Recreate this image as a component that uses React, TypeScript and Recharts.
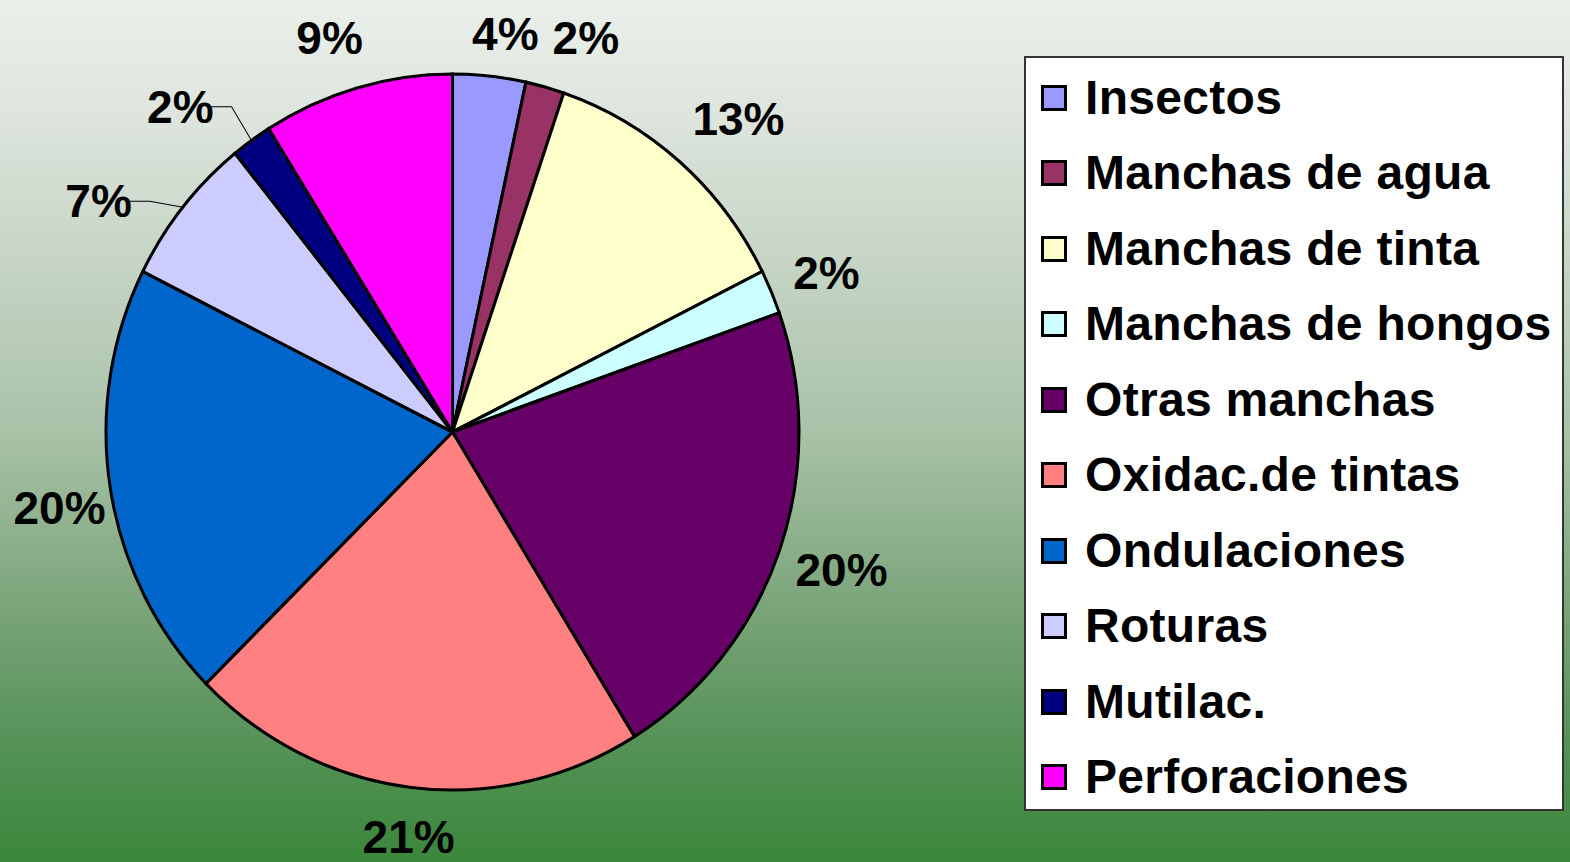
import React from "react";
import { Cell, Legend, Pie, PieChart } from "recharts";

const categories = [
  "Insectos",
  "Manchas de agua",
  "Manchas de tinta",
  "Manchas de hongos",
  "Otras manchas",
  "Oxidac.de tintas",
  "Ondulaciones",
  "Roturas",
  "Mutilac.",
  "Perforaciones",
];
// slice sizes
const shares = [3.4, 1.8, 12.4, 2.0, 21.6, 21.4, 19.8, 6.8, 1.9, 8.9];
// labels as printed on the chart
const shareLabels = ["4%", "2%", "13%", "2%", "20%", "21%", "20%", "7%", "2%", "9%"];

const colors = [
  "#9999FF",
  "#993366",
  "#FFFFCC",
  "#CCFFFF",
  "#660066",
  "#FF8080",
  "#0066CC",
  "#CCCCFF",
  "#000080",
  "#FF00FF",
];

const data = categories.map((name, i) => ({ name, value: shares[i] }));

const FONT = '"Liberation Sans", Arial, Helvetica, sans-serif';
const K = 358 / 346.5; // pie is drawn slightly taller than wide
const CY = 432;

// hand-placed label offsets (screen px), like the dragged labels in the source
const labelNudge = [
  [10, 15],
  [26, 6],
  [22, 0],
  [4, 4],
  [10, 0],
  [4, -7],
  [4, 11],
  [-41, 30],
  [-39, 13],
  [-12, 5],
];
const withLeader = [false, false, false, false, false, false, false, true, true, false];

const LABEL_SIZE = 46;

function renderLabel(p: any) {
  const rad = Math.PI / 180;
  const a = -p.midAngle * rad;
  const r = p.outerRadius * 1.16;
  const [nx, ny] = labelNudge[p.index];
  const x = p.cx + r * Math.cos(a) + nx;
  const y = p.cy + r * Math.sin(a) + ny / K;
  const text = shareLabels[p.index];
  const digits = text.length - 1;
  const w = (digits * 0.556 + 0.889) * LABEL_SIZE;
  let leader = null;
  if (withLeader[p.index]) {
    const ex = p.cx + p.outerRadius * Math.cos(a);
    const ey = p.cy + p.outerRadius * Math.sin(a);
    const sx = x + w / 2 - 2;
    leader = (
      <polyline
        points={`${sx},${y} ${sx + 20},${y} ${ex},${ey}`}
        fill="none"
        stroke="#000"
        strokeWidth={1}
      />
    );
  }
  return (
    <g key={`lbl-${p.index}`}>
      {leader}
      <g transform={`translate(${x},${y}) scale(1,${1 / K})`}>
        <text
          x={0}
          y={0}
          textAnchor="middle"
          dominantBaseline="central"
          fontFamily={FONT}
          fontWeight="bold"
          fontSize={LABEL_SIZE}
          fill="#000"
        >
          {text}
        </text>
      </g>
    </g>
  );
}

function LegendBox() {
  return (
    <div
      style={{
        width: 540,
        height: 755,
        boxSizing: "border-box",
        background: "#fff",
        border: "2px solid #333",
        paddingTop: 2,
        fontFamily: FONT,
      }}
    >
      {categories.map((name, i) => (
        <div key={name} style={{ height: 75.5, display: "flex", alignItems: "center" }}>
          <span
            style={{
              width: 26,
              height: 26,
              boxSizing: "border-box",
              border: "3px solid #000",
              background: colors[i],
              marginLeft: 15,
              marginRight: 18,
              flex: "none",
            }}
          />
          <span
            style={{
              fontSize: 48,
              fontWeight: "bold",
              lineHeight: 1,
              letterSpacing: 0.3,
              color: "#000",
              whiteSpace: "nowrap",
            }}
          >
            {name}
          </span>
        </div>
      ))}
    </div>
  );
}

export default function App() {
  return (
    <div
      className="pie-wrap"
      style={{
        position: "absolute",
        left: 0,
        top: 0,
        width: 1570,
        height: 862,
        overflow: "hidden",
        background:
          "linear-gradient(to bottom, #eaefea 0%, #dfe6df 12%, #c6d5c5 30%, #a9c2a8 50%, #80a87f 68%, #58935a 85%, #3a873a 100%)",
      }}
    >
      <style>{`.pie-wrap svg.recharts-surface{transform:scaleY(${K});transform-origin:0 ${CY}px;overflow:visible}`}</style>
      <PieChart width={1570} height={862} margin={{ top: 0, right: 0, bottom: 0, left: 0 }}>
        <Pie
          data={data}
          dataKey="value"
          nameKey="name"
          cx={452.5}
          cy={CY}
          outerRadius={346.5}
          startAngle={90}
          endAngle={-270}
          stroke="#000"
          strokeWidth={3}
          label={renderLabel}
          labelLine={false}
          isAnimationActive={false}
        >
          {data.map((d, i) => (
            <Cell key={d.name} fill={colors[i]} />
          ))}
        </Pie>
        <Legend
          layout="vertical"
          align="right"
          verticalAlign="top"
          content={() => <LegendBox />}
          wrapperStyle={{ left: 1024, top: 56, right: "auto", width: 540, height: 755 }}
        />
      </PieChart>
    </div>
  );
}
